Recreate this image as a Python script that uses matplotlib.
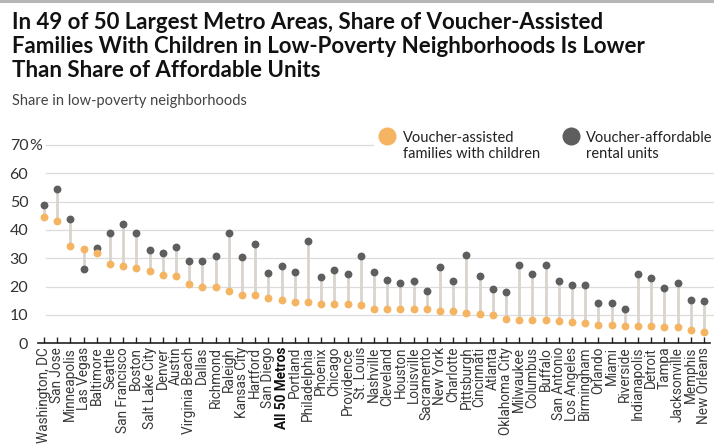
import matplotlib
matplotlib.use("Agg")
import matplotlib.pyplot as plt
from matplotlib.lines import Line2D

# Share of voucher-assisted families with children vs. share of
# voucher-affordable rental units located in low-poverty neighborhoods (%).
metros = [
    "Washington, DC", "San Jose", "Minneapolis", "Las Vegas", "Baltimore",
    "Seattle", "San Francisco", "Boston", "Salt Lake City", "Denver",
    "Austin", "Virginia Beach", "Dallas", "Richmond", "Raleigh",
    "Kansas City", "Hartford", "San Diego", "All 50 Metros", "Portland",
    "Philadelphia", "Phoenix", "Chicago", "Providence", "St. Louis",
    "Nashville", "Cleveland", "Houston", "Louisville", "Sacramento",
    "New York", "Charlotte", "Pittsburgh", "Cincinnati", "Atlanta",
    "Oklahoma City", "Milwaukee", "Columbus", "Buffalo", "San Antonio",
    "Los Angeles", "Birmingham", "Orlando", "Miami", "Riverside",
    "Indianapolis", "Detroit", "Tampa", "Jacksonville", "Memphis",
    "New Orleans",
]
families = [
    44.5, 43.3, 34.3, 33.2, 32.0, 28.1, 27.3, 26.6, 25.6, 24.1,
    23.9, 21.0, 20.0, 20.0, 18.5, 17.1, 16.9, 15.9, 15.3, 14.5,
    14.5, 13.9, 13.8, 13.7, 13.4, 12.0, 12.0, 12.0, 12.0, 12.0,
    11.5, 11.5, 10.8, 10.2, 9.9, 8.7, 8.2, 8.1, 8.1, 7.9,
    7.5, 7.3, 6.6, 6.5, 6.1, 6.0, 6.0, 5.8, 5.8, 4.8,
    3.9,
]
units = [
    48.7, 54.4, 43.9, 26.1, 33.8, 38.9, 42.2, 38.9, 32.8, 31.9,
    34.0, 29.0, 28.9, 30.9, 38.9, 30.3, 35.0, 24.7, 27.3, 25.1,
    36.2, 23.4, 26.0, 24.5, 30.8, 25.2, 22.2, 21.2, 22.1, 18.6,
    26.9, 22.0, 31.1, 23.9, 19.2, 18.0, 27.7, 24.6, 27.7, 22.1,
    20.5, 20.5, 14.2, 14.2, 12.1, 24.3, 23.2, 19.4, 21.4, 15.3,
    15.0,
]
y_ticks = [0, 10, 20, 30, 40, 50, 60, 70]

ORANGE = "#f4b462"
GRAY = "#5e5e5e"
STEM = "#d9d4cd"
GRID = "#dcdcdc"
INK = "#222222"

W, H = 714, 444
plt.rcParams["font.family"] = ["Lato", "DejaVu Sans"]

fig = plt.figure(figsize=(W / 100, H / 100), dpi=100)


def fx(px):
    return px / W


def fy(py):
    return 1 - py / H


# plot area: baseline at y=343, 70% gridline at y=145
ax = fig.add_axes([fx(38), fy(343.3), fx(710) - fx(38), fy(145) - fy(343.3)])
x = list(range(len(metros)))
ax.set_xlim(-0.45, len(metros) - 0.55)
ax.set_ylim(0, 70)

for v in y_ticks[1:]:
    xmax = (373 - 38) / 672 if v == 70 else 1.02
    ax.axhline(v, xmin=0.012, xmax=xmax, color=GRID, lw=0.9, zorder=0,
               clip_on=False)

ax.vlines(x, families, units, color=STEM, lw=2.0, zorder=1)
ax.scatter(x, units, s=32, color=GRAY, linewidths=0, zorder=2, clip_on=False)
ax.scatter(x, families, s=32, color=ORANGE, linewidths=0, zorder=3,
           clip_on=False)

for side in ("top", "right", "left"):
    ax.spines[side].set_visible(False)
ax.spines["bottom"].set_color(INK)
ax.spines["bottom"].set_linewidth(1.2)

ax.set_xticks(x)
ax.set_xticklabels(metros, rotation=90, fontsize=9.8, color="#383838",
                   family=["Roboto", "DejaVu Sans"])
for lbl in ax.get_xticklabels():
    if lbl.get_text() == "All 50 Metros":
        lbl.set_fontweight("bold")
        lbl.set_color("#111111")
ax.tick_params(axis="x", direction="in", length=4, width=1, color=INK, pad=2.5)

ax.set_yticks(y_ticks)
ax.set_yticklabels([str(v) for v in y_ticks], fontsize=11.5, color="#333333")
ax.tick_params(axis="y", length=0, pad=7)
ax.text(-0.0135, 70, "%", transform=ax.get_yaxis_transform(), ha="left",
        va="center_baseline", fontsize=11.5, color="#333333")

# legend
legend_items = [
    (ORANGE, "Voucher-assisted\nfamilies with children", 387.5, 403),
    (GRAY, "Voucher-affordable\nrental units", 571, 586),
]
for color, label, mx, tx in legend_items:
    fig.add_artist(Line2D([fx(mx)], [fy(136)], marker="o", markersize=13,
                          color=color, markeredgewidth=0, linestyle="none"))
    fig.text(fx(tx), fy(146), label, fontsize=10.5, color=INK, ha="left",
             va="center", linespacing=1.2)

# titles
fig.text(fx(12), fy(12), "In 49 of 50 Largest Metro Areas, Share of Voucher-Assisted\n"
         "Families With Children in Low-Poverty Neighborhoods Is Lower\n"
         "Than Share of Affordable Units",
         fontsize=16, fontweight="bold", color="#111111", ha="left", va="top",
         linespacing=1.17)
fig.text(fx(12), fy(101), "Share in low-poverty neighborhoods", fontsize=10.5,
         color="#444444", ha="left", va="center")

fig.add_artist(Line2D([0, 1], [fy(1), fy(1)], color="#b5b5b5", lw=2.2))

fig.savefig("out.png", dpi=100)
